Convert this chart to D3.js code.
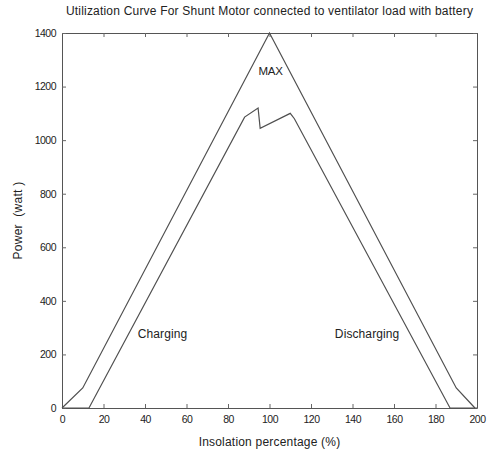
<!DOCTYPE html>
<html>
<head>
<meta charset="utf-8">
<script src="https://cdn.jsdelivr.net/npm/d3@7"></script>
<style>
  body { margin: 0; background: #fff; }
  text { font-family: "Liberation Sans", Arial, sans-serif; fill: #222; }
</style>
</head>
<body>
<svg id="chart"></svg>
<script>
// Chart size
const width = 490;
const height = 452;
const margin = { top: 33, right: 13, bottom: 44, left: 62 };

// Data
const maxX = [0, 10, 100, 190, 199];
const maxY = [0, 75, 1400, 75, 0];
const useX = [0, 13, 88, 94.5, 95.5, 110, 112, 187, 200];
const useY = [0, 0, 1086, 1120, 1044, 1100, 1080, 0, 0];
const xTicks = [0, 20, 40, 60, 80, 100, 120, 140, 160, 180, 200];
const yTicks = [0, 200, 400, 600, 800, 1000, 1200, 1400];
const labels = ["MAX", "Charging", "Discharging"];
const labelX = [100.5, 36.5, 131.5];
const labelY = [1242, 262, 262];

const svg = d3.select("#chart")
  .attr("width", width)
  .attr("height", height);

const x = d3.scaleLinear().domain([0, 200]).range([margin.left, width - margin.right]);
const y = d3.scaleLinear().domain([0, 1400]).range([height - margin.bottom, margin.top]);

// axes with inward ticks, matlab style
svg.append("g")
  .attr("transform", `translate(0,${y(0)})`)
  .call(d3.axisBottom(x).tickValues(xTicks).tickFormat(d3.format("d"))
    .tickSizeInner(-4).tickSizeOuter(0).tickPadding(8));
svg.append("g")
  .attr("transform", `translate(0,${y(1400)})`)
  .call(d3.axisTop(x).tickValues(xTicks).tickSizeInner(-4).tickSizeOuter(0).tickFormat(""));
svg.append("g")
  .attr("transform", `translate(${x(0)},0)`)
  .call(d3.axisLeft(y).tickValues(yTicks).tickFormat(d3.format("d"))
    .tickSizeInner(-4).tickSizeOuter(0).tickPadding(6));
svg.append("g")
  .attr("transform", `translate(${x(200)},0)`)
  .call(d3.axisRight(y).tickValues(yTicks).tickSizeInner(-4).tickSizeOuter(0).tickFormat(""));

svg.selectAll(".domain").attr("stroke", "#555");
svg.selectAll(".tick line").attr("stroke", "#666");
svg.selectAll(".tick text")
  .style("font-size", "10.5px")
  .style("letter-spacing", "-0.5px")
  .attr("fill", "#222");

// the two curves
const line = d3.line().x(d => x(d[0])).y(d => y(d[1]));
const maxData = maxX.map((v, i) => [v, maxY[i]]);
const useData = useX.map((v, i) => [v, useY[i]]);

svg.append("path")
  .attr("d", line(maxData))
  .attr("fill", "none")
  .attr("stroke", "#505050")
  .attr("stroke-width", 1.2);

svg.append("path")
  .attr("d", line(useData))
  .attr("fill", "none")
  .attr("stroke", "#505050")
  .attr("stroke-width", 1.2);

// text labels inside the plot
labels.forEach((t, i) => {
  svg.append("text")
    .attr("x", x(labelX[i]))
    .attr("y", y(labelY[i]))
    .attr("text-anchor", i === 0 ? "middle" : "start")
    .style("font-size", i === 0 ? "11.5px" : "12px")
    .style("letter-spacing", i === 0 ? "-0.3px" : "0.1px")
    .text(t);
});

// title and axis titles
svg.append("text")
  .attr("x", (x(0) + x(200)) / 2)
  .attr("y", 15)
  .attr("text-anchor", "middle")
  .style("font-size", "12px")
  .style("letter-spacing", "0.2px")
  .text("Utilization Curve For Shunt Motor connected to ventilator load with battery");

svg.append("text")
  .attr("x", (x(0) + x(200)) / 2)
  .attr("y", 446)
  .attr("text-anchor", "middle")
  .style("font-size", "12px")
  .style("letter-spacing", "0.2px")
  .text("Insolation percentage (%)");

svg.append("text")
  .attr("transform", `translate(22,${(y(0) + y(1400)) / 2}) rotate(-90)`)
  .attr("text-anchor", "middle")
  .style("font-size", "12px")
  .style("letter-spacing", "0.3px")
  .style("white-space", "pre")
  .text("Power  (watt )");
</script>
</body>
</html>
